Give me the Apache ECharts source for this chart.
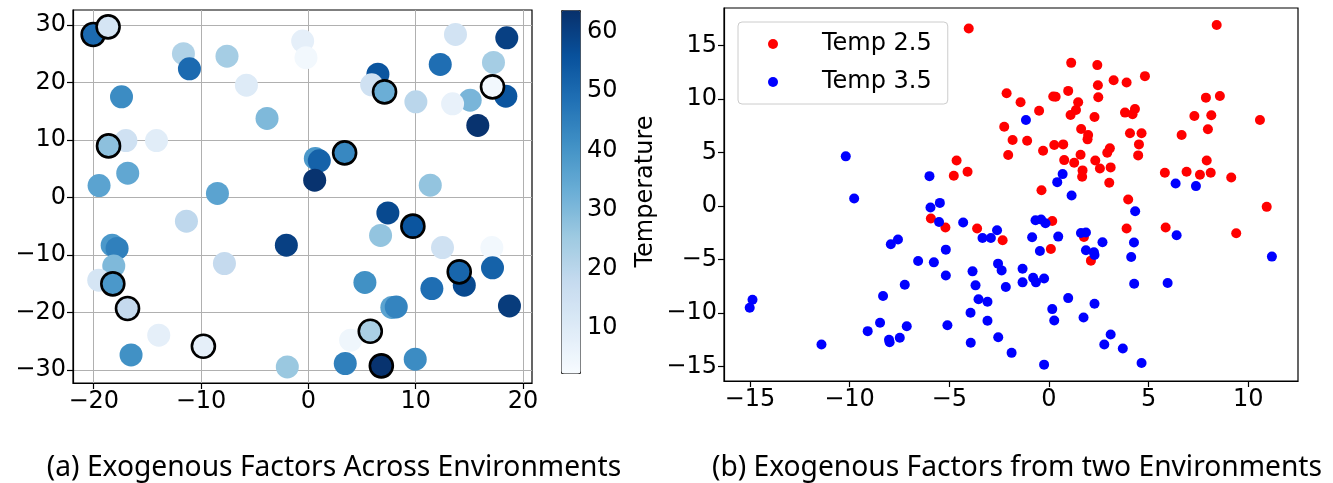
<!DOCTYPE html>
<html>
<head>
<meta charset="utf-8">
<script src="https://cdn.jsdelivr.net/npm/echarts@6/dist/echarts.min.js"></script>
<style>
  html, body { margin: 0; padding: 0; background: #fff; }
  #chart { width: 1333px; height: 483px; }
</style>
</head>
<body>
<div id="chart"></div>
<script>
// Panel (a): exogenous factor positions coloured by temperature; ring = 1 marks outlined points
const envX    = [-20.05,-18.66,-11.64,-11.08,-7.58,-5.77,-17.41,-3.85,-14.15,-17.0,-18.62,-16.83,-19.5,-8.47,-0.53,-0.22,
                 6.48,5.9,7.1,10.02,13.71,12.29,18.49,17.25,17.16,18.4,15.08,13.44,15.79,0.65,1.02,0.59,3.38,11.36,
                 -11.36,-2.05,-18.28,-17.82,-18.13,-19.53,-18.22,-16.85,-7.82,-13.94,-9.78,-16.52,-1.96,
                 7.41,9.74,6.73,12.5,17.1,14.06,17.16,14.53,11.51,5.27,18.74,7.78,8.19,3.94,5.77,3.44,6.8,9.96];
const envY    = [28.35,29.67,25.0,22.37,24.57,19.53,17.5,13.74,9.9,9.9,8.97,4.23,2.08,0.7,27.2,24.3,
                 21.44,19.6,18.37,16.63,28.35,23.13,27.76,23.48,19.24,17.62,16.92,16.29,12.52,6.78,6.37,3.0,7.76,2.14,
                 -4.12,-8.3,-8.3,-8.87,-11.9,-14.38,-15.02,-19.3,-11.48,-23.95,-25.86,-27.37,-29.46,
                 -2.68,-4.99,-6.61,-8.7,-8.7,-12.93,-12.24,-15.25,-15.83,-14.78,-18.85,-19.13,-19.03,-24.82,-23.25,-28.87,-29.28,-28.12];
const envTemp = [50,13,22,50,24,10,42,30,9,15,28,35,36,36,8,4,
                 55,15,33,20,14,49,60,24,4,55,31,7,63,39,52,63,43,27,
                 19,60,39,45,30,13,39,18,18,8,8,41,26,
                 58,55,27,15,4,51,52,58,49,41,61,36,44,5,23,45,63,42];
const envRing = [1,1,0,0,0,0,0,0,0,0,1,0,0,0,0,0,
                 0,0,1,0,0,0,0,0,1,0,0,0,0,0,0,0,1,0,
                 0,0,0,0,0,0,1,1,0,0,1,0,0,
                 0,1,0,0,0,1,0,0,0,0,0,0,0,0,1,0,1,0];

// Panel (b): two environments
const redX  = [-4.02,-4.63,-4.77,-4.08,8.42,1.12,2.43,3.25,3.9,4.82,2.46,-2.12,-1.42,0.22,0.34,0.97,2.48,1.47,1.36,1.09,
               -0.49,2.29,3.82,4.32,4.2,-2.24,1.62,1.97,1.94,-1.82,-1.09,4.07,4.65,4.52,0.27,0.72,-0.29,-2.04,3.06,2.93,
               1.59,4.48,0.77,1.27,2.33,2.56,3.1,1.69,1.67,3.03,-0.37,3.98,6.66,7.3,7.88,8.58,8.15,7.98,10.59,7.92,
               5.82,6.91,7.58,8.12,9.15,10.93,5.86,3.9,9.4,0.17,1.76,0.1,2.11,-2.32,-5.92,-5.19,-3.6];
const redY  = [16.59,4.25,2.81,3.19,16.91,13.37,13.16,11.75,11.53,12.13,11.28,10.53,9.69,10.22,10.2,10.75,10.16,9.69,8.97,8.5,
               8.9,8.31,8.72,9.06,8.57,7.4,7.19,6.63,6.22,6.16,6.09,6.79,6.79,5.75,5.69,5.75,5.15,4.75,5.38,4.97,
               4.78,4.72,4.28,4.03,4.25,3.5,3.6,3.32,2.72,2.16,1.47,0.6,6.63,8.41,10.12,10.28,8.47,7.16,8.03,4.25,
               3.09,3.19,2.91,3.09,2.66,-0.09,-2.02,-2.12,-2.56,-1.41,-2.9,-4.03,-5.12,-3.21,-1.18,-2.02,-2.12];
const blueX = [-10.19,-5.99,-9.77,-5.47,-1.15,0.69,0.42,1.14,6.36,7.38,4.33,6.41,11.19,-0.67,-0.39,-0.17,-0.84,0.47,-0.45,1.61,
               1.86,2.69,1.86,2.26,2.29,4.27,4.13,-1.32,-2.37,-0.79,-0.65,-0.24,-1.32,-2.16,4.28,5.96,0.97,2.29,0.17,0.27,
               1.74,3.1,2.78,3.71,4.65,-0.24,-1.87,-2.54,-15.01,-14.87,-11.41,-9.09,-8.47,-8.02,-7.99,-7.48,-7.13,-8.32,-7.23,-7.93,
               -7.57,-6.56,-5.77,-5.94,-5.51,-5.17,-5.17,-5.09,-4.3,-3.33,-2.91,-2.6,-3.83,-2.55,-3.68,-3.53,-3.08,-3.93,-3.08,-3.92];
const blueY = [4.63,2.78,0.69,0.28,8.03,2.97,2.22,0.97,2.1,1.85,-0.5,-2.75,-4.74,-1.34,-1.28,-1.62,-2.93,-2.87,-4.22,-2.53,
               -2.49,-3.4,-4.15,-4.34,-4.59,-3.43,-4.78,-5.87,-6.03,-6.71,-7.15,-6.78,-7.15,-7.59,-7.28,-7.21,-8.62,-9.15,-9.65,-10.71,
               -10.43,-12.02,-12.96,-13.34,-14.68,-14.84,-13.74,-12.28,-9.52,-8.77,-12.96,-11.71,-10.93,-12.52,-12.75,-12.33,-11.25,-8.43,-7.37,-3.59,
               -3.15,-5.15,-5.28,-0.15,-1.5,-4.09,-6.5,-11.15,-1.56,-3.0,-3.0,-2.28,-6.12,-5.4,-7.43,-8.72,-8.96,-9.99,-10.74,-12.8];

// Tick values
const ticksAX = [-20, -10, 0, 10, 20];
const ticksAY = [-30, -20, -10, 0, 10, 20, 30];
const ticksBX = [-15, -10, -5, 0, 5, 10];
const ticksBY = [-15, -10, -5, 0, 5, 10, 15];
const ticksCB = [10, 20, 30, 40, 50, 60];
const cbMin = 2.4, cbMax = 63.7;
const blues = ['#f7fbff','#deebf7','#c6dbef','#9ecae1','#6baed6','#4292c6','#2171b5','#08519c','#08306b'];

const FONT = '"DejaVu Sans", sans-serif';
const CAP_FONT = '"Noto Sans", sans-serif';
const fmt = v => String(v).replace('-', '\u2212');

const plainPts = [], ringPts = [];
envX.forEach((x, i) => (envRing[i] ? ringPts : plainPts).push([x, envY[i], envTemp[i]]));
const redPts = redX.map((x, i) => [x, redY[i]]);
const bluePts = blueX.map((x, i) => [x, blueY[i]]);

function valueAxis(gridIndex, min, max, ticks, opts) {
  return Object.assign({
    type: 'value', gridIndex, min, max,
    axisLine: { show: true, onZero: false, lineStyle: { color: '#000', width: 1.2 } },
    axisTick: { show: true, customValues: ticks, length: 6, lineStyle: { color: '#000', width: 1.2 } },
    axisLabel: { customValues: ticks, formatter: fmt, fontSize: 24, fontFamily: FONT, color: '#000', margin: 7 },
    splitLine: { show: false }
  }, opts || {});
}

const chart = echarts.init(document.getElementById('chart'), null, { renderer: 'canvas' });
chart.setOption({
  animation: false,
  backgroundColor: '#fff',
  title: [
    { text: '(a) Exogenous Factors Across Environments', left: 329, top: 449, textAlign: 'center',
      textStyle: { fontFamily: CAP_FONT, fontSize: 28.2, fontWeight: 'normal', color: '#000' } },
    { text: '(b) Exogenous Factors from two Environments', left: 1012, top: 449, textAlign: 'center',
      textStyle: { fontFamily: CAP_FONT, fontSize: 28.2, fontWeight: 'normal', color: '#000' } }
  ],
  grid: [
    { left: 73, top: 10, width: 459, height: 373, show: true, borderColor: '#000', borderWidth: 1.2, backgroundColor: 'transparent' },
    { left: 724, top: 8, width: 574, height: 373, show: true, borderColor: '#000', borderWidth: 1.2, backgroundColor: 'transparent' },
    { left: 561, top: 10, width: 19, height: 363 }
  ],
  xAxis: [
    valueAxis(0, -21.93, 20.84, ticksAX, { splitLine: { show: true, lineStyle: { color: '#b0b0b0', width: 1 } } }),
    valueAxis(1, -16.3, 12.5, ticksBX),
    { type: 'value', gridIndex: 2, min: 0, max: 1, show: false }
  ],
  yAxis: [
    valueAxis(0, -32.26, 32.6, ticksAY, { splitLine: { show: true, lineStyle: { color: '#b0b0b0', width: 1 } } }),
    valueAxis(1, -16.37, 18.5, ticksBY),
    valueAxis(2, cbMin, cbMax, ticksCB, {
      position: 'right',
      axisLine: { show: false },
      name: 'Temperature', nameLocation: 'middle', nameRotate: 90, nameGap: 54,
      nameTextStyle: { fontSize: 24, fontFamily: FONT, color: '#000' }
    })
  ],
  visualMap: {
    type: 'continuous', min: cbMin, max: cbMax, dimension: 2, seriesIndex: [0, 1],
    inRange: { color: blues },
    orient: 'vertical', left: 561, top: 10, itemWidth: 19, itemHeight: 363,
    padding: 0, calculable: false, hoverLink: false,
    borderColor: '#333', borderWidth: 1
  },
  legend: {
    data: ['Temp 2.5', 'Temp 3.5'],
    orient: 'vertical', left: 738, top: 22,
    padding: [10, 16, 10, 30], itemGap: 14, itemWidth: 10, itemHeight: 10,
    icon: 'circle',
    borderColor: '#cccccc', borderWidth: 1, borderRadius: 4,
    textStyle: { fontSize: 24, fontFamily: FONT, color: '#000', padding: [0, 0, 0, 39] }
  },
  series: [
    { type: 'scatter', xAxisIndex: 0, yAxisIndex: 0, data: plainPts, symbolSize: 23,
      itemStyle: { opacity: 1 } },
    { type: 'scatter', xAxisIndex: 0, yAxisIndex: 0, data: ringPts, symbolSize: 23,
      itemStyle: { opacity: 1, borderColor: '#000', borderWidth: 2.6 } },
    { type: 'scatter', name: 'Temp 2.5', xAxisIndex: 1, yAxisIndex: 1, data: redPts, symbolSize: 10,
      itemStyle: { color: '#ff0000', opacity: 1 } },
    { type: 'scatter', name: 'Temp 3.5', xAxisIndex: 1, yAxisIndex: 1, data: bluePts, symbolSize: 10,
      itemStyle: { color: '#0000ff', opacity: 1 } }
  ]
});
</script>
</body>
</html>
